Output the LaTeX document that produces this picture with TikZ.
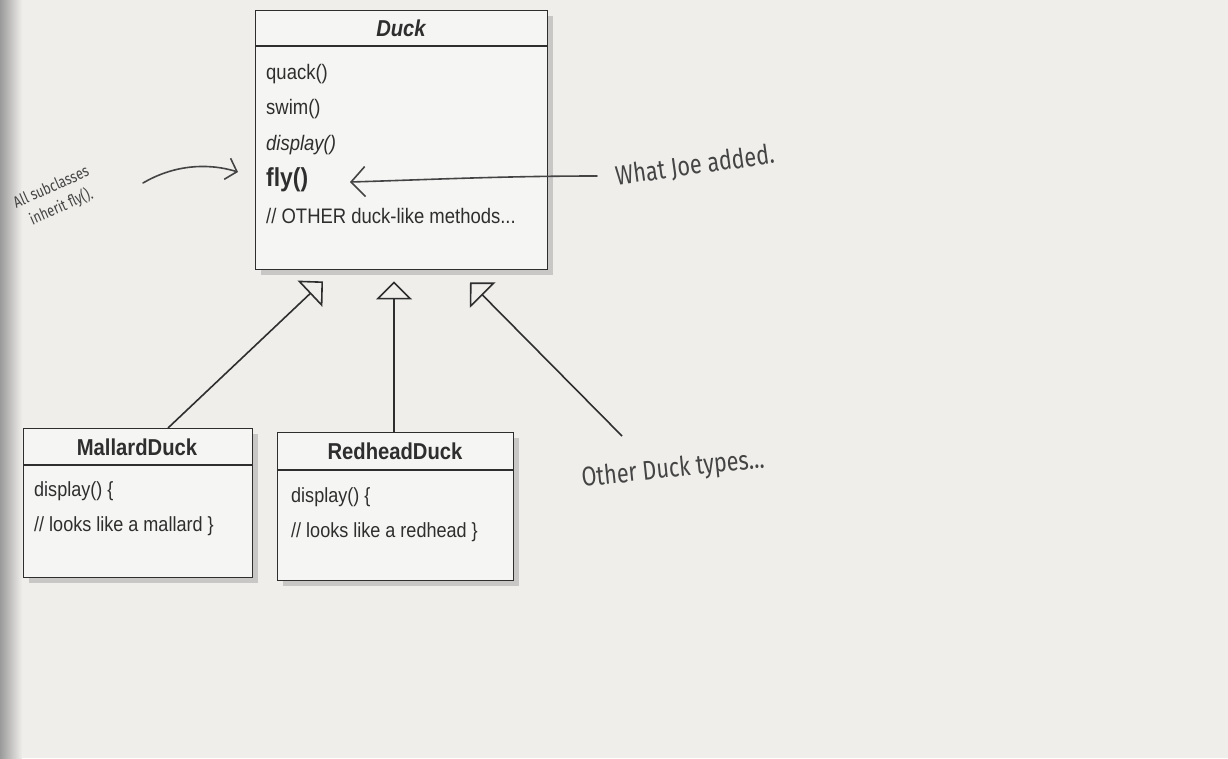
\documentclass[tikz,border=0pt]{standalone}
\usepackage{fontspec}
\setmainfont{Liberation Sans}[FakeStretch=0.88]
\newfontfamily\handfont{Fira Sans}[FakeStretch=0.8]
\usepackage{tikz}
\usetikzlibrary{arrows.meta,positioning,calc,shadows}
\definecolor{paper}{HTML}{EFEEEB}
\definecolor{boxfill}{HTML}{F5F5F3}
\definecolor{ink}{HTML}{2E2E2E}
\definecolor{pencil}{HTML}{444444}
\definecolor{gutter}{HTML}{9A9A9A}

\tikzset{
  classbox/.style={draw=ink, line width=1.4pt, fill=boxfill, anchor=north west, inner sep=0pt,
                   drop shadow={shadow xshift=5pt, shadow yshift=-5pt, opacity=.35}},
  classname/.style={font=\fontsize{23}{25}\selectfont\bfseries, text=ink},
  member/.style={anchor=west, inner sep=0pt, font=\fontsize{20.5}{22}\selectfont, text=ink},
  inherit/.style={draw=ink, line width=1.6pt, -{Triangle[length=18pt,width=36pt,fill=paper]}},
  note/.style={font=\handfont\fontsize{27}{29}\selectfont, text=pencil},
  notearrow/.style={draw=pencil, line width=1.6pt, line cap=round,
                    -{Straight Barb[length=10pt,width=22pt]}}
}

\begin{document}
\begin{tikzpicture}[x=1pt,y=-1pt]
    \useasboundingbox (0,0) rectangle (1228,758);
    \fill[paper] (0,0) rectangle (1228,758);
    \shade[left color=gutter,right color=paper] (0,0) rectangle (22,758);

    \node[classbox,minimum width=292pt,minimum height=259pt] (duck) at (255,10) {};
    \draw[ink,line width=1.4pt] ([yshift=-36pt]duck.north west) -- ([yshift=-36pt]duck.north east);
    \node[classname] (ducktitle) at (401,28) {\itshape Duck};
    \node[member,font=\fontsize{21}{23}\selectfont] (quack) at (266,74) {quack()};
    \node[member,font=\fontsize{21}{23}\selectfont] (swim) at (266,109) {swim()};
    \node[member,font=\fontsize{21}{23}\selectfont\itshape] (display) at (266,145) {display()};
    \node[member,font=\fontsize{26}{28}\selectfont\bfseries] (fly) at (266,180) {fly()};
    \node[member,font=\fontsize{21}{23}\selectfont] (othermethods) at (266,216) {// OTHER duck-like methods...};

    \node[classbox,minimum width=229pt,minimum height=149pt] (mallard) at (23,428) {};
    \draw[ink,line width=1.4pt] ([yshift=-37pt]mallard.north west) -- ([yshift=-37pt]mallard.north east);
    \node[classname] (mallardtitle) at (137,447) {MallardDuck};
    \node[member] (mallarddisplay) at (34,491) {display() \{};
    \node[member] (mallardlooks) at (34,526) {// looks like a mallard \}};

    \node[classbox,minimum width=236pt,minimum height=148pt] (redhead) at (277,432) {};
    \draw[ink,line width=1.4pt] ([yshift=-38pt]redhead.north west) -- ([yshift=-38pt]redhead.north east);
    \node[classname] (redheadtitle) at (395,451) {RedheadDuck};
    \node[member] (redheaddisplay) at (291,497) {display() \{};
    \node[member] (redheadlooks) at (291,532) {// looks like a redhead \}};

    \coordinate (tipA) at ([xshift=68pt,yshift=-11pt]duck.south west);
    \coordinate (tipB) at ([xshift=139pt,yshift=-11pt]duck.south west);
    \coordinate (tipC) at ([xshift=215pt,yshift=-12pt]duck.south west);
    \coordinate (others) at (622,436);
    \draw[inherit] ([xshift=145pt]mallard.north west) -- (tipA);
    \draw[inherit] ([xshift=117pt]redhead.north west) -- (tipB);
    \draw[inherit] (others) -- (tipC);

    \node[note,rotate=8] (joe) at (695,166) {What Joe added.};
    \node[note,rotate=6] (othertypes) at (673,470) {Other Duck types...};
    \node[note,font=\handfont\fontsize{16}{22}\selectfont,rotate=24,align=left] (allsub) at (56,198)
        {All subclasses\\\hspace{8pt}inherit fly().};

    \coordinate (allsubstart) at (143,183);
    \coordinate (allsubend) at (238,172);
    \draw[notearrow] (allsubstart) .. controls (172,166) and (205,162) .. (allsubend);
    \coordinate (joestart) at (597,176);
    \coordinate (joeend) at (350,182);
    \draw[notearrow,-{Straight Barb[length=14pt,width=30pt]}] (joestart) .. controls (500,176) and (420,180) .. (joeend);
\end{tikzpicture}
\end{document}
